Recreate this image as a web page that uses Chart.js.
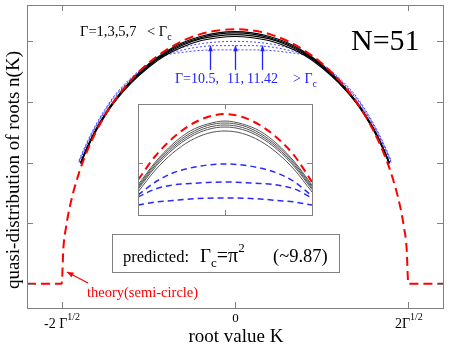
<!DOCTYPE html>
<html>
<head>
<meta charset="utf-8">
<script src="https://cdn.jsdelivr.net/npm/chart.js@4/dist/chart.umd.min.js"></script>
<style>
  body { margin: 0; background: #fff; }
  #wrap { position: relative; width: 449px; height: 347px; }
  #main { position: absolute; left: 0; top: 0; }
  #inset { position: absolute; left: 137px; top: 103px; }
</style>
</head>
<body>
<div id="wrap">
  <canvas id="main" width="449" height="347"></canvas>
  <canvas id="inset" width="176" height="113"></canvas>
</div>
<script>
// theory (semi-circle), red dashed
const redK = [-2.4, -2.0, -1.98, -1.95, -1.9, -1.8, -1.7, -1.6, -1.5, -1.4, -1.2, -1.0, -0.8, -0.6, -0.4, -0.2, 0,
  0.2, 0.4, 0.6, 0.8, 1.0, 1.2, 1.4, 1.5, 1.6, 1.7, 1.8, 1.9, 1.95, 1.98, 2.0, 2.4];
const redN = [0, 0, 0.59, 0.93, 1.31, 1.83, 2.21, 2.52, 2.78, 3.0, 3.36, 3.64, 3.85, 4.01, 4.12, 4.18, 4.2,
  4.18, 4.12, 4.01, 3.85, 3.64, 3.36, 3.0, 2.78, 2.52, 2.21, 1.83, 1.31, 0.93, 0.59, 0, 0];

// Gamma = 1,3,5,7 (black)
const blackK = [-1.78, -1.7, -1.6, -1.5, -1.4, -1.2, -1.0, -0.8, -0.6, -0.4, -0.2, 0,
  0.2, 0.4, 0.6, 0.8, 1.0, 1.2, 1.4, 1.5, 1.6, 1.7, 1.78];
const black1 = [2.0, 2.27, 2.56, 2.80, 3.01, 3.35, 3.62, 3.83, 3.98, 4.08, 4.14, 4.16,
  4.14, 4.08, 3.98, 3.83, 3.62, 3.35, 3.01, 2.80, 2.56, 2.27, 2.0];
const black3 = [2.0, 2.27, 2.55, 2.79, 3.0, 3.33, 3.60, 3.81, 3.96, 4.06, 4.12, 4.14,
  4.12, 4.06, 3.96, 3.81, 3.60, 3.33, 3.0, 2.79, 2.55, 2.27, 2.0];
const black5 = [1.99, 2.26, 2.54, 2.78, 2.99, 3.32, 3.59, 3.79, 3.94, 4.04, 4.09, 4.11,
  4.09, 4.04, 3.94, 3.79, 3.59, 3.32, 2.99, 2.78, 2.54, 2.26, 1.99];
const black7 = [1.98, 2.25, 2.53, 2.77, 2.98, 3.31, 3.57, 3.77, 3.91, 4.01, 4.06, 4.08,
  4.06, 4.01, 3.91, 3.77, 3.57, 3.31, 2.98, 2.77, 2.53, 2.25, 1.98];

// Gamma = 10.5, 11, 11.42 (blue dotted)
const blueK = [-1.8, -1.7, -1.6, -1.5, -1.4, -1.2, -1.0, -0.8, -0.6, -0.4, -0.2, 0,
  0.2, 0.4, 0.6, 0.8, 1.0, 1.2, 1.4, 1.5, 1.6, 1.7, 1.8];
const blue105 = [2.0, 2.32, 2.60, 2.84, 3.05, 3.37, 3.62, 3.79, 3.90, 3.96, 3.99, 4.00,
  3.99, 3.96, 3.90, 3.79, 3.62, 3.37, 3.05, 2.84, 2.60, 2.32, 2.0];
const blue11 = [2.02, 2.34, 2.62, 2.86, 3.07, 3.38, 3.62, 3.78, 3.86, 3.91, 3.93, 3.93,
  3.93, 3.91, 3.86, 3.78, 3.62, 3.38, 3.07, 2.86, 2.62, 2.34, 2.02];
const blue1142 = [2.04, 2.36, 2.64, 2.88, 3.09, 3.40, 3.63, 3.77, 3.82, 3.85, 3.86, 3.86,
  3.86, 3.85, 3.82, 3.77, 3.63, 3.40, 3.09, 2.88, 2.64, 2.36, 2.04];

// inset (zoom on the top)
const insetX = [-1, -0.8, -0.6, -0.4, -0.2, 0, 0.2, 0.4, 0.6, 0.8, 1];
const insetRed = [-0.17, 0.07, 0.25, 0.38, 0.46, 0.49, 0.46, 0.38, 0.25, 0.07, -0.19];
const insetBlack = [
  [-0.22, 0.01, 0.19, 0.32, 0.39, 0.42, 0.39, 0.32, 0.19, 0.01, -0.22],
  [-0.235, -0.006, 0.171, 0.298, 0.375, 0.40, 0.375, 0.298, 0.171, -0.006, -0.235],
  [-0.25, -0.023, 0.153, 0.279, 0.355, 0.38, 0.355, 0.279, 0.153, -0.023, -0.25],
  [-0.265, -0.04, 0.135, 0.26, 0.335, 0.36, 0.335, 0.26, 0.135, -0.04, -0.265],
  [-0.29, -0.07, 0.10, 0.222, 0.296, 0.32, 0.296, 0.222, 0.10, -0.07, -0.29]
];
const insetBlue = [
  [-0.32, -0.19, -0.10, -0.05, -0.02, -0.01, -0.02, -0.05, -0.10, -0.19, -0.33],
  [-0.34, -0.26, -0.22, -0.205, -0.195, -0.19, -0.195, -0.205, -0.22, -0.26, -0.35],
  [-0.42, -0.39, -0.375, -0.36, -0.352, -0.35, -0.352, -0.36, -0.375, -0.39, -0.42]
];

const xTicks = [-2, 0, 2];
const yTicks = [0, 1, 2, 3, 4];

const SERIF = '"Liberation Serif", "Times New Roman", serif';

const pts = (xs, ys) => xs.map((x, i) => ({ x: x, y: ys[i] }));

// draw a run of text pieces: [text, size, dy]
function runText(ctx, x, y, parts, color) {
  ctx.fillStyle = color || "#000";
  ctx.textAlign = "left";
  ctx.textBaseline = "alphabetic";
  let cx = x;
  parts.forEach(([t, size, dy]) => {
    ctx.font = size + "px " + SERIF;
    ctx.fillText(t, cx, y + (dy || 0));
    cx += ctx.measureText(t).width;
  });
}

function arrow(ctx, x1, y1, x2, y2, color, head) {
  const a = Math.atan2(y2 - y1, x2 - x1);
  ctx.strokeStyle = color;
  ctx.fillStyle = color;
  ctx.lineWidth = 1.3;
  ctx.setLineDash([]);
  ctx.beginPath();
  ctx.moveTo(x1, y1);
  ctx.lineTo(x2, y2);
  ctx.stroke();
  ctx.beginPath();
  ctx.moveTo(x2, y2);
  ctx.lineTo(x2 - head * Math.cos(a - 0.4), y2 - head * Math.sin(a - 0.4));
  ctx.lineTo(x2 - head * Math.cos(a + 0.4), y2 - head * Math.sin(a + 0.4));
  ctx.closePath();
  ctx.fill();
}

// frame with inward ticks on all four sides
function drawFrame(chart, xt, yt, len) {
  const ctx = chart.ctx;
  const a = chart.chartArea;
  const sx = chart.scales.x, sy = chart.scales.y;
  ctx.save();
  ctx.setLineDash([]);
  ctx.strokeStyle = "#808080";
  ctx.lineWidth = 1;
  ctx.strokeRect(Math.round(a.left) + 0.5, Math.round(a.top) + 0.5,
    Math.round(a.right - a.left), Math.round(a.bottom - a.top));
  ctx.beginPath();
  xt.forEach(v => {
    const px = Math.round(sx.getPixelForValue(v)) + 0.5;
    ctx.moveTo(px, a.bottom); ctx.lineTo(px, a.bottom - len);
    ctx.moveTo(px, a.top); ctx.lineTo(px, a.top + len);
  });
  yt.forEach(v => {
    const py = Math.round(sy.getPixelForValue(v)) + 0.5;
    ctx.moveTo(a.left, py); ctx.lineTo(a.left + len, py);
    ctx.moveTo(a.right, py); ctx.lineTo(a.right - len, py);
  });
  ctx.stroke();
  ctx.restore();
}

const whiteBg = {
  id: "whiteBg",
  beforeDraw(chart) {
    const ctx = chart.ctx;
    ctx.save();
    ctx.fillStyle = "#fff";
    ctx.fillRect(0, 0, chart.width, chart.height);
    ctx.restore();
  }
};

const mainDecor = {
  id: "mainDecor",
  afterDraw(chart) {
    const ctx = chart.ctx;
    const sx = chart.scales.x, sy = chart.scales.y;
    drawFrame(chart, xTicks, yTicks, 6);
    ctx.save();

    // tick labels
    runText(ctx, 44, 328, [["-2 Γ", 14, 0], ["1/2", 10, -8]]);
    ctx.font = "13px " + SERIF;
    ctx.textAlign = "center";
    ctx.fillStyle = "#000";
    ctx.fillText("0", sx.getPixelForValue(0) + 0.5, 322);
    runText(ctx, 395, 328, [["2Γ", 14, 0], ["1/2", 10, -8]]);

    // axis titles
    ctx.font = "19px " + SERIF;
    ctx.textAlign = "center";
    ctx.fillStyle = "#000";
    ctx.fillText("root value K", 236, 342);
    ctx.save();
    ctx.translate(19, 170);
    ctx.rotate(-Math.PI / 2);
    ctx.fillText("quasi-distribution of roots n(K)", 0, 0);
    ctx.restore();

    // annotations
    runText(ctx, 80, 36, [["Γ=1,3,5,7", 14.5, 0]]);
    runText(ctx, 147, 36, [["< Γ", 14.5, 0], ["c", 10, 4]]);
    const blue = "#2222ff";
    runText(ctx, 175, 83, [["Γ=10.5,", 14, 0]], blue);
    runText(ctx, 227, 83, [["11,", 14, 0]], blue);
    runText(ctx, 247, 83, [["11.42", 14, 0]], blue);
    runText(ctx, 293, 83, [["> Γ", 14, 0], ["c", 10, 4]], blue);
    [-0.29, 0, 0.31].forEach(k => {
      const px = Math.round(sx.getPixelForValue(k)) + 0.5;
      arrow(ctx, px, sy.getPixelForValue(3.53), px, sy.getPixelForValue(3.93), blue, 6);
    });

    runText(ctx, 351, 50, [["N=51", 30, 0]]);

    // predicted box
    ctx.strokeStyle = "#808080";
    ctx.lineWidth = 1;
    ctx.setLineDash([]);
    ctx.strokeRect(112.5, 234.5, 227, 38);
    runText(ctx, 123, 262, [["predicted:", 16.5, 0]]);
    runText(ctx, 200, 262, [["Γ", 19, 0], ["c", 13, 5], ["=π", 20, 0], ["2", 13, -10]]);
    runText(ctx, 273, 262, [["(~9.87)", 18.5, 0]]);

    // theory label
    runText(ctx, 87, 297, [["theory(semi-circle)", 14.5, 0]], "#ff0000");
    arrow(ctx, 88, 283, 67, 272, "#ff0000", 7);

    ctx.restore();
  }
};

const insetDecor = {
  id: "insetDecor",
  afterDraw(chart) {
    drawFrame(chart, [0], [0], 5);
  }
};

const lineBase = { pointRadius: 0, fill: false, cubicInterpolationMode: "monotone" };

const mainDatasets = [
  Object.assign({ label: "theory", data: pts(redK, redN), borderColor: "#ff0000",
    borderWidth: 2, borderDash: [9, 5] }, lineBase),
  Object.assign({ label: "G=1", data: pts(blackK, black1), borderColor: "#000", borderWidth: 1.2 }, lineBase),
  Object.assign({ label: "G=3", data: pts(blackK, black3), borderColor: "#000", borderWidth: 1.2 }, lineBase),
  Object.assign({ label: "G=5", data: pts(blackK, black5), borderColor: "#000", borderWidth: 1.2 }, lineBase),
  Object.assign({ label: "G=7", data: pts(blackK, black7), borderColor: "#000", borderWidth: 1.2 }, lineBase),
  Object.assign({ label: "G=10.5", data: pts(blueK, blue105), borderColor: "rgba(40,40,255,0.85)",
    borderWidth: 1, borderDash: [2, 2] }, lineBase),
  Object.assign({ label: "G=11", data: pts(blueK, blue11), borderColor: "rgba(40,40,255,0.85)",
    borderWidth: 1, borderDash: [2, 2] }, lineBase),
  Object.assign({ label: "G=11.42", data: pts(blueK, blue1142), borderColor: "rgba(40,40,255,0.85)",
    borderWidth: 1, borderDash: [2, 2] }, lineBase)
];

new Chart(document.getElementById("main").getContext("2d"), {
  type: "line",
  data: { datasets: mainDatasets },
  options: {
    responsive: false,
    animation: false,
    devicePixelRatio: 1,
    layout: { padding: { left: 27, right: 6, top: 5, bottom: 39 } },
    plugins: { legend: { display: false }, tooltip: { enabled: false } },
    scales: {
      x: { type: "linear", min: -2.4, max: 2.4, display: false },
      y: { type: "linear", min: -0.4, max: 4.6, display: false }
    }
  },
  plugins: [whiteBg, mainDecor]
});

const insetDatasets = [
  Object.assign({ data: pts(insetX, insetRed), borderColor: "#ff0000", borderWidth: 2,
    borderDash: [8, 5] }, lineBase)
];
insetBlack.forEach(arr => insetDatasets.push(
  Object.assign({ data: pts(insetX, arr), borderColor: "#555", borderWidth: 1 }, lineBase)));
insetBlue.forEach(arr => insetDatasets.push(
  Object.assign({ data: pts(insetX, arr), borderColor: "#2a2aff", borderWidth: 1.5,
    borderDash: [6, 4] }, lineBase)));

new Chart(document.getElementById("inset").getContext("2d"), {
  type: "line",
  data: { datasets: insetDatasets },
  options: {
    responsive: false,
    animation: false,
    devicePixelRatio: 1,
    layout: { padding: 1 },
    plugins: { legend: { display: false }, tooltip: { enabled: false } },
    scales: {
      x: { type: "linear", min: -1, max: 1, display: false },
      y: { type: "linear", min: -0.52, max: 0.59, display: false }
    }
  },
  plugins: [whiteBg, insetDecor]
});
</script>
</body>
</html>
